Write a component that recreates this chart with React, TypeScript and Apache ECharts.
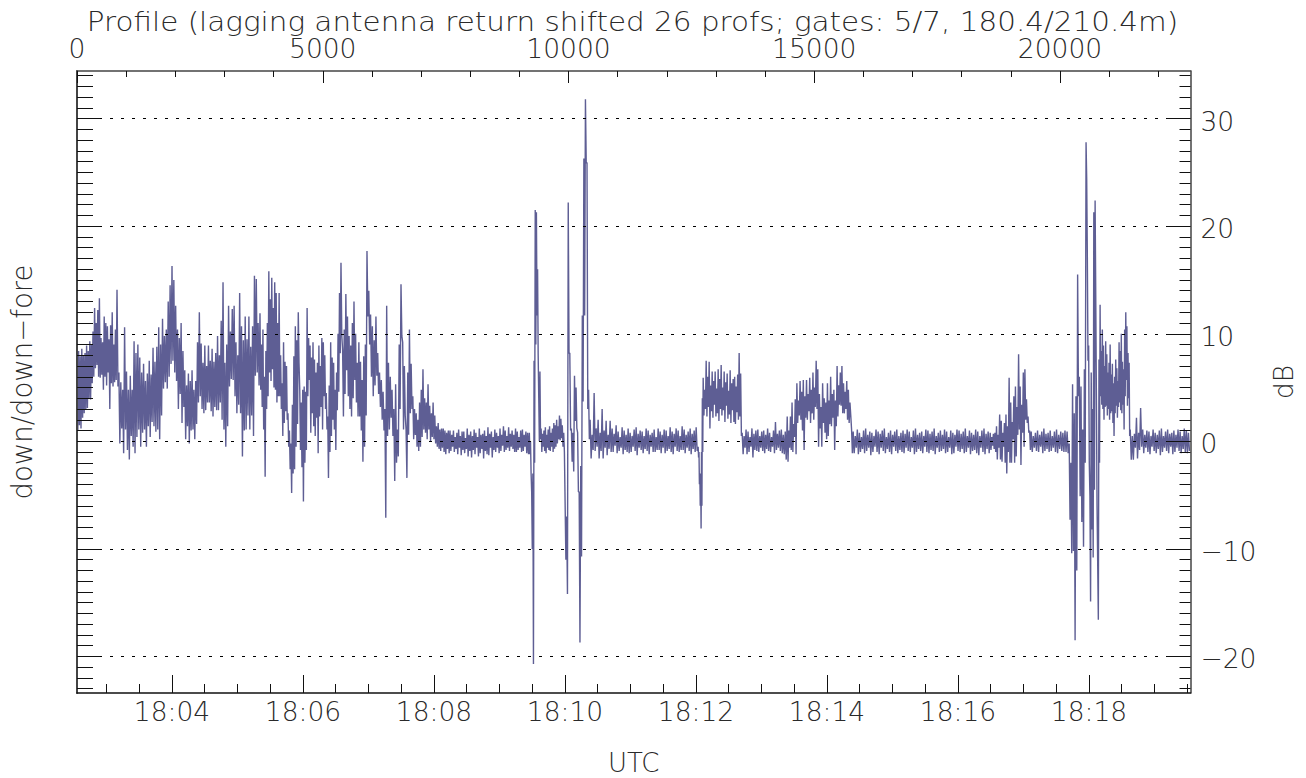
import { useEffect, useRef } from "react";
import * as echarts from "echarts";

const titleText =
  "Profile (lagging antenna return shifted 26 profs; gates: 5/7, 180.4/210.4m)";

// x extents of the plot
const profileMin = 0;
const profileMax = 22655;
const minuteMin = 2.55; // minutes after 18:00
const minuteMax = 19.55;
const dbMin = -23.4;
const dbMax = 34.43;

const profileMajor = [0, 5000, 10000, 15000, 20000];
const profileMinor = [
  1000, 2000, 3000, 4000, 6000, 7000, 8000, 9000, 11000, 12000, 13000, 14000,
  16000, 17000, 18000, 19000, 21000, 22000,
];
const minuteMajor = [4, 6, 8, 10, 12, 14, 16, 18];
const minuteMinor = [
  3, 3.5, 4.5, 5, 5.5, 6.5, 7, 7.5, 8.5, 9, 9.5, 10.5, 11, 11.5, 12.5, 13, 13.5,
  14.5, 15, 15.5, 16.5, 17, 17.5, 18.5, 19, 19.5,
];
const dbMajor = [-20, -10, 0, 10, 20, 30];
const dbMinor = [
  -23, -22, -21, -19, -18, -17, -16, -15, -14, -13, -12, -11, -9, -8, -7, -6, -5,
  -4, -3, -2, -1, 1, 2, 3, 4, 5, 6, 7, 8, 9, 11, 12, 13, 14, 15, 16, 17, 18, 19,
  21, 22, 23, 24, 25, 26, 27, 28, 29, 31, 32, 33, 34,
];

// dB values, alternating peak and trough
const turbulenceA1 = [
  8.2, 1.0, 8.4, 1.5, 7.9, 1.2, 8.6, 2.2, 8.0, 2.6, 8.2, 3.0, 8.9, 3.1, 8.4, 4.0, 9.3,
  3.9, 9.0, 5.4, 10.2, 6.0, 12.4, 6.8, 11.0, 7.1, 12.2, 6.0, 13.3, 5.9, 9.6, 6.2, 9.2,
  4.8, 11.6, 6.0, 11.0, 5.2, 10.7, 6.4, 9.5, 3.0, 10.8, 5.4, 12.0, 5.1, 9.0, 5.5, 10.4,
  5.7,
];
const turbulenceA2 = [
  14.1, 5.1, 6.4, -0.2, 5.5, 1.2, 4.8, -1.1, 10.6, 1.1, 6.5, -0.8, 4.8, -1.7, 6.1, 0.5,
  4.8, -0.5, 9.3, -1.1, 8.2, 0.4, 9.0, 1.1, 7.8, -0.5, 6.4, 0.8, 7.2, 1.1, 5.6, -0.5,
  6.3, 1.4, 7.5, 0.4, 6.2, 1.8, 8.7, 1.4, 7.4, 0.9, 8.8, 1.1, 10.6, 0.2, 9.0, 2.4, 11.4,
  4.9, 9.8, 5.5, 10.4, 4.9, 13.0, 6.0, 14.5, 7.2,
];
const turbulenceA3 = [
  16.3, 7.5, 15.0, 6.4, 12.6, 5.6, 10.4, 3.0, 9.6, 4.4, 11.0, 1.7, 8.4, 3.2, 6.6, 0.2,
  5.2, 1.4, 6.3, -0.2, 5.6, 1.0, 6.6, 1.1, 4.8, 0.2, 5.6, 1.6, 9.2, 3.6, 12.0, 4.2, 9.1,
  3.0, 7.3, 2.6, 8.9, 2.9, 7.0, 3.6, 8.9, 3.6, 7.5, 2.8, 8.6, 2.3, 7.4, 3.2, 8.2, 2.9,
  9.8, 2.9, 8.0, 3.6, 11.2, 2.0,
];
const turbulenceA4 = [
  14.8, 1.1, 7.3, -0.5, 9.0, 1.4, 12.6, 5.1, 10.2, 5.8, 12.3, 5.7, 12.6, 4.2, 9.2, 2.6,
  8.0, 3.4, 13.8, 2.6, 10.7, -1.4, 9.4, 1.0, 11.6, 1.1, 9.5, 2.4, 11.6, 1.1, 8.8, 2.4,
  10.7, 0.5, 15.4, 6.1, 15.1, 6.4, 11.0, 5.2,
];
const turbulenceB1 = [
  11.9, 4.8, 9.0, 3.2, 10.4, 1.1, 6.0, -3.3, 8.4, 3.0, 11.0, 4.2, 15.8, 6.4, 13.2, 5.6,
  15.2, 6.7, 12.4, 5.0, 14.8, 4.8, 13.8, 3.6, 11.0, 4.2, 13.8, 4.2, 8.0, 3.0, 5.4, 0.5,
  9.2, 1.7, 7.4, 2.8, 7.0, 2.0, 2.6, -0.5, 1.0, -2.6, -0.2, -4.8, 3.4, -3.0, 7.9, -2.6,
  10.7, -0.5, 9.4, 1.6, 12.0, 7.3, 4.8, -0.8, 3.6, -2.4, 4.8, -5.6, 5.1, -2.0, 4.6, -0.8,
  12.4, 4.2, 9.6, 5.7, 8.9, 0.8, 7.8, 2.6, 9.2, 1.4, 7.6, 0.5, 6.4, 2.2, 7.3, -1.1, 8.9,
  2.3, 7.0, 3.2, 9.6, 1.1, 9.2, 4.2, 8.0, 3.0, 4.5, 1.1, 2.3, -3.4, 5.2, -1.0, 9.2, 0.5,
  7.8, 2.0, 7.3, 1.1, 4.8, -0.8, 6.4, 2.9, 10.0, 4.6, 13.8, 8.2,
];
const turbulenceB2 = [
  16.6, 9.8, 8.5, 2.3, 10.4, 4.4, 13.7, 6.6, 11.6, 4.2, 9.8, 3.0, 8.9, 2.3, 11.0, 4.0,
  13.0, 5.7, 10.0, 3.6, 7.3, 2.3, 9.2, 2.3, 7.4, 1.0, 5.7, -1.9, 7.9, -0.5, 9.0, 2.4,
];
const turbulenceB3 = [
  17.7, 11.6, 14.0, 9.0, 11.8, 6.0, 10.7, 4.2, 9.4, 5.2, 11.6, 6.1, 8.2, 4.4, 6.4, 3.2,
  5.7, 2.0, 4.6, 1.0, 3.0, -7.1, 12.6, 0.5, 7.3, 1.1, 6.0, 2.2, 4.8, 0.5, 3.0, -3.7, 5.3,
  -2.0, 1.1, -1.4, 9.0, 3.0,
];
const turbulenceB4 = [
  14.6, 9.8, 9.2, 1.1, 7.0, 2.4, 1.1, -3.4, 6.4, 0.6, 10.4, 2.6, 7.2, 3.0, 4.2, 0.2, 3.0,
  0.6, 2.6, -0.5, 2.0, -0.9, 3.6, -0.5, 4.8, 0.4, 6.7, 1.1, 4.0, 0.8, 3.6, 0.2, 5.3, 1.1,
  3.3, 0.0, 2.6, 0.4, 3.6, 0.2, 2.4, -0.2, 1.4, -0.5, 1.7, -0.7, 1.1, -0.9, 1.2, -0.6,
  1.2, -1.0, 1.0, -1.2, 0.8, -0.7, 1.0, -1.1,
];
const quietC = [
  1.0, -0.9, 0.6, -0.5, 1.0, -1.0, 0.4, -0.7, 0.8, -1.2, 1.1, -0.6, 0.5, -1.3, 0.9, -0.8,
  0.9, -1.1, 0.3, -0.7, 1.2, -1.4, 0.6, -0.9, 0.9, -1.5, 0.5, -0.8, 1.1, -1.2, 0.8, -0.6,
  0.4, -1.4, 1.2, -1.1, 0.6, -0.7, 0.7, -1.6, 1.0, -0.9, 0.5, -1.2, 1.3, -1.3, 0.7, -0.6,
  0.9, -1.5, 0.4, -0.8, 1.1, -1.0, 0.8, -0.6, 0.5, -1.1, 1.2, -0.9, 0.6, -0.4, 1.4, -1.0,
  1.0, -0.8, 0.5, -0.6, 1.3, -0.9, 0.7, -0.5, 1.0, -0.7, 0.6, -1.0, 1.2, -1.0, 0.9, -0.8,
  0.4, -0.6, 1.0, -1.0, 1.1, -0.9, 0.6, -0.5, 0.9, -1.1, 0.8, -1.2,
];
const spikeD = [
  0.8, -1.2, 0.0, -3.0, -4.7, -10.0, -3.0, -20.7, 7.5, -2.0, 21.5, 9.0, 21.3, 11.7, 16.0,
  8.0, 4.0, 0.0, 6.5, 0.2,
];
const quietE = [
  1.2, -1.0, 0.7, -0.5, 1.0, -0.9, 1.3, -1.1, 0.6, -0.6, 1.1, -0.8, 1.4, -0.9, 0.8, -0.5,
  1.2, -1.0, 1.7, -0.7, 1.5, -0.5, 2.0, -0.2, 1.4, 0.2, 2.4, 0.1, 2.1, 0.3, 1.5, -0.5, 0.8,
  -1.0,
];
const spikeF = [
  -1.0, -11.0, -7.0, -14.2, 22.2, 8.2, 8.2, 1.0, 1.2, -1.9, 0.8, -2.8, 6.1, 1.9, 5.0, 1.2,
  0.8, -4.7, -4.7, -18.7, -2.3, -10.7, 11.7, 3.7, 26.3, 11.7, 31.8, 25.9, 25.9, 3.0, 4.8,
  0.2,
];
const quietG = [
  2.0, -1.6, 0.6, -0.8, 4.5, -0.9, 1.2, -0.5, 2.0, -1.6, 0.8, -0.9, 3.0, -1.6, 1.0, -0.6,
  1.9, -1.3, 0.6, -0.7, 1.9, -1.0, 1.2, -1.0, 0.7, -0.4, 1.5, -1.1, 0.9, -0.9, 0.4, -0.6,
  1.3, -1.2, 1.0, -0.8, 0.6, -1.0, 1.2, -1.1, 0.8, -1.0, 0.5, -0.5, 1.1, -0.9, 1.3, -1.3,
  0.7, -0.6, 1.0, -0.8, 0.9, -1.1, 0.5, -0.7, 1.2, -0.9, 1.0, -1.2, 0.6, -0.5, 0.8, -1.0,
  1.1, -1.0, 0.4, -0.8, 1.2, -0.8, 0.9, -1.1, 0.6, -0.6, 1.1, -1.1, 1.0, -0.9, 0.5, -0.7,
  1.3, -1.0, 0.9, -1.2, 0.7, -0.5, 1.2, -0.9, 1.0, -1.0, 0.5, -0.8, 1.4, -0.8, 1.1, -1.1,
  0.6, -0.6, 0.9, -0.9, 1.2, -1.2, 0.7, -0.7, 1.0, -1.0, 1.3, -0.9,
];
const dipH = [-0.5, -1.5, -1.0, -4.0, -3.0, -6.0, -3.0, -8.1, -1.0, -6.0, 4.0, -1.0];
const blockI = [
  5.9, 2.4, 4.8, 3.0, 7.5, 2.3, 6.0, 3.2, 7.4, 1.2, 5.2, 2.8, 6.5, 2.2, 5.6, 3.4, 6.5, 2.3,
  4.9, 2.6, 6.7, 1.9, 5.8, 3.0, 7.1, 2.4, 5.0, 2.9, 6.5, 1.8, 5.5, 3.3, 6.3, 2.1, 4.7, 2.5,
  6.6, 1.7, 5.4, 2.9, 5.8, 1.8, 6.0, 1.6, 5.1, 2.7, 6.2, 2.0, 8.2, 2.3, 6.3, 0.5,
];
const quietJ = [
  0.8, -1.2, 0.5, -0.6, 1.1, -1.2, 0.9, -1.0, 0.4, -0.5, 1.2, -1.5, 0.7, -0.8, 1.0, -0.9,
  1.1, -1.0, 0.5, -0.6, 0.9, -0.9, 1.0, -1.1, 0.6, -0.7, 1.2, -0.9, 0.8, -1.0, 0.4, -0.5,
  1.0, -1.1, 1.8, -0.8, 0.7, -0.6, 1.0, -0.9, 1.1, -1.1, 0.6, -1.2, 0.9, -1.7,
];
const blockK = [
  2.3, -1.9, 1.0, -0.6, 2.3, -0.8, 3.6, -1.0, 1.6, 0.4, 3.9, -1.2, 5.4, 1.7, 3.8, 2.4, 5.6,
  2.0, 4.6, 1.0, 5.7, -0.8, 4.2, 2.2, 5.7, 2.0, 4.4, 2.8, 5.9, 1.7, 4.8, 2.6, 6.4, 2.0, 5.0,
  3.2, 7.5, 3.0, 6.7, -0.5, 4.4, 1.2, 3.2, -0.5, 5.4, 1.7, 4.0, 0.8, 3.6, 0.2, 5.4, 0.5, 3.8,
  1.6, 6.0, 1.4, 4.4, 2.2, 4.8, -0.8, 3.8, 1.4, 7.0, 2.3, 5.2, 3.4, 6.4, 3.3, 7.0, 2.6, 5.4,
  2.6, 4.6, 3.0, 5.6, 2.0, 4.8, 1.7, 3.6, 2.4, 1.1, -1.1,
];
const quietL = [
  0.9, -1.1, 0.5, -0.6, 1.1, -1.2, 0.8, -1.0, 0.4, -0.7, 1.0, -1.1, 1.2, -0.9, 0.6, -0.6,
  0.9, -1.3, 0.8, -1.0, 0.5, -0.5, 1.1, -1.0, 0.9, -1.2, 0.7, -0.6, 1.0, -0.9, 1.2, -1.1,
  0.4, -0.7, 0.8, -1.0, 1.0, -1.2, 0.6, -0.5, 0.9, -0.9, 1.1, -1.1, 0.5, -0.8, 0.8, -1.0,
  1.0, -1.1, 0.7, -0.6, 1.1, -0.9, 0.9, -1.0, 0.4, -0.6, 1.0, -1.2, 1.2, -1.0, 0.6, -0.7,
  0.8, -0.9, 0.9, -1.1, 0.5, -0.5, 1.1, -1.0, 1.0, -1.1, 0.7, -0.8, 0.9, -0.9, 1.2, -1.2,
  0.5, -0.6, 0.8, -1.0, 1.0, -0.9, 0.6, -0.7, 1.1, -1.1, 0.9, -1.0, 0.4, -0.6, 1.0, -1.2,
  0.8, -1.1, 0.6, -0.5, 1.1, -0.9, 1.0, -1.0, 0.7, -0.7, 0.9, -1.1, 1.2, -1.0, 0.5, -0.6,
  1.0, -1.2, 0.8, -0.9, 0.6, -0.8, 1.1, -1.1, 0.9, -1.3, 0.5, -0.6, 1.0, -1.0, 1.2, -1.2,
  0.7, -0.7, 0.9, -1.1,
];
const blockM = [
  0.8, -0.8, 0.4, -0.4, 0.7, -0.7, 0.8, -1.0, 1.4, -1.7, 0.6, -0.6, 2.5, -1.7, 1.9, -1.9,
  0.8, -0.5, 1.7, -2.0, 2.5, -3.0, 1.4, -1.0, 5.9, -2.0, 3.6, -2.0, 1.8, 0.2, 4.2, -2.0,
  5.1, -1.4, 3.2, 0.6, 8.1, 1.1, 5.1, -2.2, 3.4, 0.8, 6.4, -0.5, 6.7, 2.0, 3.9, 1.7, 2.3,
  0.8, 1.0, -0.8,
];
const quietN = [
  0.9, -1.0, 0.5, -0.6, 0.8, -0.9, 1.0, -1.0, 0.6, -0.5, 0.9, -1.1, 1.2, -0.9, 0.7, -0.7,
  0.8, -1.0, 1.0, -0.9, 0.5, -0.6, 0.9, -1.0, 1.1, -1.1, 0.6, -0.7, 0.9, -0.9, 0.8, -1.0,
  1.0, -1.0, 0.9, -1.1,
];
const spikeO1 = [
  -0.2, -7.3, -2.0, -10.4, 5.3, -10.2, 2.6, -18.5, 4.2, -12.0, 15.5, 4.2, 6.0, -5.1, 5.1,
  -7.5, 1.1, -9.8, 6.7, -2.0,
];
const spikeO2 = [
  27.8, 24.4, 17.0, 7.5, 8.9, -2.0, -5.1, -14.9, 6.4, -8.2, 3.0, -10.8, 21.3, -4.5, 22.4,
  13.5, 4.2, -6.0, -6.0, -16.6,
];
const blockP = [
  7.6, -2.0, 12.7, 4.2, 8.4, 3.4, 10.4, 3.0, 8.9, 2.0, 7.0, 3.2, 9.3, 3.3, 8.1, 2.4, 6.4, 3.0,
  7.3, 2.0, 9.0, 2.6, 6.2, 2.8, 7.2, 1.7, 5.4, 0.5, 6.0, 2.6, 7.6, 3.3, 6.8, 2.2, 5.6, 3.2, 9.2,
  3.6, 8.4, 2.9, 10.0, 2.6, 7.4, 3.4, 6.7, 1.1, 10.4, 4.2, 12.0, 5.7, 10.7, 3.3, 8.2, 4.0, 7.3,
  0.5,
];
const quietQ = [
  1.1, -1.7, 0.5, -1.7, 0.7, -0.6, 2.2, -1.6, 0.8, -0.8, 3.1, -0.5, 1.1, -1.1, 0.6, -0.6, 1.0,
  -1.0, 0.9, -1.2, 0.5, -0.5, 1.1, -0.9, 0.8, -1.1, 0.6, -0.7, 1.0, -1.3, 1.2, -1.0, 0.5, -0.6,
  0.9, -0.9, 1.1, -1.1, 0.7, -0.5, 0.8, -1.2, 1.0, -1.0, 0.6, -0.6, 1.1, -0.9, 0.9, -1.1, 0.5,
  -0.7, 1.2, -1.0, 1.0, -1.1, 0.8, -0.9,
];

// each stretch of the trace and the profile it starts at
const stretches: [number, number[]][] = [
  [0, turbulenceA1],
  [814, turbulenceA2],
  [1933, turbulenceA3],
  [2971, turbulenceA4],
  [3723, turbulenceB1],
  [5371, turbulenceB2],
  [5900, turbulenceB3],
  [6592, turbulenceB4],
  [7589, quietC],
  [9203, spikeD],
  [9443, quietE],
  [9931, spikeF],
  [10440, quietG],
  [12638, dipH],
  [12740, blockI],
  [13533, quietJ],
  [14450, blockK],
  [15792, quietL],
  [18580, blockM],
  [19414, quietN],
  [20187, spikeO1],
  [20530, spikeO2],
  [20793, blockP],
  [21429, quietQ],
];

function buildTrace() {
  const points: [number, number][] = [];
  stretches.forEach(([start, values], i) => {
    const end = i + 1 < stretches.length ? stretches[i + 1][0] : profileMax;
    values.forEach((v, j) => {
      points.push([start + ((end - start) * j) / values.length, v]);
    });
  });
  return points;
}

const fontFamily = '"DejaVu Sans", sans-serif';
const textColor = "#2a2a2a";
const textStyle = {
  fontFamily,
  fontSize: 26.5,
  fontWeight: 200 as const,
  color: textColor,
};
const tickColor = "#111";
const frameColor = "#444";

function formatClock(m: number) {
  return `18:${String(m).padStart(2, "0")}`;
}

export default function App() {
  const chartRef = useRef<HTMLDivElement>(null);

  useEffect(() => {
    if (!chartRef.current) return;
    const chart = echarts.init(chartRef.current, undefined, { renderer: "svg" });

    const tickOnlyX = (
      min: number,
      max: number,
      position: "top" | "bottom",
      values: number[],
      length: number,
    ) => ({
      type: "value" as const,
      position,
      min,
      max,
      z: 3,
      axisLine: { show: false, onZero: false },
      axisLabel: { show: false },
      splitLine: { show: false },
      axisTick: {
        inside: true,
        length,
        customValues: values,
        lineStyle: { color: tickColor, width: 1 },
      },
    });

    const tickOnlyY = (
      position: "left" | "right",
      values: number[],
      length: number,
    ) => ({
      type: "value" as const,
      position,
      min: dbMin,
      max: dbMax,
      z: 3,
      axisLine: { show: false, onZero: false },
      axisLabel: { show: false },
      splitLine: { show: false },
      axisTick: {
        inside: true,
        length,
        customValues: values,
        lineStyle: { color: tickColor, width: 1 },
      },
    });

    chart.setOption({
      animation: false,
      backgroundColor: "#fff",
      graphic: [
        {
          type: "text",
          x: 632.5,
          y: 22,
          scaleX: 1.11,
          style: {
            text: titleText,
            fontFamily,
            fontSize: 26.5,
            fontWeight: 200,
            fill: textColor,
            textAlign: "center",
            textVerticalAlign: "middle",
          },
        },
      ],
      grid: {
        left: 77,
        top: 71,
        width: 1113.5,
        height: 622,
        show: false,
        outerBoundsMode: "none",
      },
      xAxis: [
        {
          type: "value",
          position: "top",
          min: profileMin,
          max: profileMax,
          z: 3,
          axisLine: { onZero: false, lineStyle: { color: frameColor, width: 1.5 } },
          axisTick: {
            inside: true,
            length: 12,
            customValues: profileMajor,
            lineStyle: { color: tickColor, width: 1 },
          },
          axisLabel: {
            ...textStyle,
            margin: 9,
            customValues: profileMajor,
            formatter: (v: number) => String(v),
          },
          splitLine: { show: false },
        },
        tickOnlyX(profileMin, profileMax, "top", profileMinor, 6),
        {
          type: "value",
          position: "bottom",
          min: minuteMin,
          max: minuteMax,
          z: 3,
          name: "UTC",
          nameLocation: "middle",
          nameGap: 57,
          nameTextStyle: { ...textStyle, fontSize: 26 },
          axisLine: { onZero: false, lineStyle: { color: "#111", width: 1.5 } },
          axisTick: {
            inside: true,
            length: 18,
            customValues: minuteMajor,
            lineStyle: { color: tickColor, width: 1 },
          },
          axisLabel: {
            ...textStyle,
            margin: 5,
            customValues: minuteMajor,
            formatter: (v: number) => formatClock(v),
          },
          splitLine: { show: false },
        },
        tickOnlyX(minuteMin, minuteMax, "bottom", minuteMinor, 9),
      ],
      yAxis: [
        {
          type: "value",
          position: "left",
          min: dbMin,
          max: dbMax,
          z: 3,
          name: "down/down\u2212fore",
          nameLocation: "middle",
          nameRotate: 90,
          nameGap: 41,
          nameTextStyle: { ...textStyle, fontSize: 27.5 },
          axisLine: {
            show: true,
            onZero: false,
            lineStyle: { color: frameColor, width: 2 },
          },
          axisLabel: { show: false },
          axisTick: {
            inside: true,
            length: 23,
            customValues: dbMajor,
            lineStyle: { color: tickColor, width: 1 },
          },
          splitLine: {
            show: true,
            lineStyle: { color: "#000", width: 1, type: [3, 8] },
          },
        },
        tickOnlyY("left", dbMinor, 16),
        {
          type: "value",
          position: "right",
          min: dbMin,
          max: dbMax,
          z: 3,
          name: "dB",
          nameLocation: "middle",
          nameRotate: 90,
          nameGap: 79,
          nameTextStyle: { ...textStyle },
          axisLine: {
            show: true,
            onZero: false,
            lineStyle: { color: frameColor, width: 1.5 },
          },
          axisTick: {
            inside: true,
            length: 24,
            customValues: dbMajor,
            lineStyle: { color: tickColor, width: 1 },
          },
          axisLabel: {
            margin: 10,
            customValues: dbMajor,
            formatter: (v: number) => `{v|${String(v).replace("-", "\u2212")}}`,
            rich: { v: { ...textStyle, padding: [5, 0, 0, 0] } },
          },
          splitLine: { show: false },
        },
        tickOnlyY("right", dbMinor, 11),
      ],
      series: [
        {
          type: "line",
          xAxisIndex: 0,
          yAxisIndex: 0,
          data: buildTrace(),
          showSymbol: false,
          symbol: "none",
          z: 2,
          lineStyle: { color: "#5e5e94", width: 1.4, join: "bevel" },
        },
      ],
    });

    return () => {
      chart.dispose();
    };
  }, []);

  return (
    <div
      ref={chartRef}
      style={{ position: "absolute", left: 0, top: 0, width: 1306, height: 778 }}
    />
  );
}
